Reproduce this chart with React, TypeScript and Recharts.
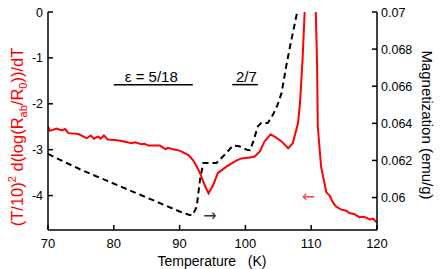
import React from 'react';
import { LineChart, Line, XAxis, YAxis, ReferenceLine, ReferenceDot } from 'recharts';

// red curve: (T/10)^2 d(log(Rab/R0))/dT, left axis
const redT = [70, 70.3, 71.3, 72.1, 72.6, 73.1, 74.6, 75.9, 76.5, 77.0, 77.6, 78.0, 78.5, 79.1, 80.2, 81.2, 82.7, 83.2, 84.2, 84.7, 85.2, 86.2, 87.0, 87.9, 88.2, 89.0, 90.0, 91.3, 92.0, 92.6, 93.1, 93.8, 94.4, 95.1, 95.8, 97.1, 98.6, 99.4, 100.7, 101.4, 102.2, 102.9, 103.8, 104.4, 105.5, 106.5, 107.2, 108.0, 108.3, 108.7, 109.0, 109.3, 110.4, 110.7, 110.9, 111.0, 111.5, 112.3, 112.8, 113.3, 113.8, 114.5, 115.3, 115.8, 116.5, 117.3, 118.0, 118.9, 119.4, 120];
const redV = [-2.49, -2.59, -2.54, -2.58, -2.55, -2.64, -2.66, -2.75, -2.69, -2.76, -2.71, -2.76, -2.69, -2.78, -2.79, -2.81, -2.86, -2.84, -2.88, -2.87, -2.91, -2.91, -2.91, -2.99, -2.96, -2.99, -3.02, -3.11, -3.22, -3.36, -3.51, -3.77, -3.95, -3.77, -3.51, -3.37, -3.24, -3.19, -3.17, -3.15, -3.04, -2.82, -2.67, -2.71, -2.82, -2.97, -2.86, -2.42, -1.98, -1.0, -0.02, 1.5, 1.5, -0.02, -1.18, -2.49, -3.37, -3.93, -4.0, -4.15, -4.24, -4.3, -4.33, -4.38, -4.4, -4.47, -4.46, -4.52, -4.5, -4.59];

// dashed curve: magnetization, right axis
const dashT = [70, 72, 75, 78, 81, 84, 87, 90, 91.5, 92.0, 92.6, 93.1, 93.6, 94.3, 95.6, 97.1, 98.1, 99.1, 100.2, 100.7, 101.2, 101.9, 102.4, 103.4, 104.2, 104.9, 105.5, 106.2, 107.0, 107.8, 108.2];
const dashV = [0.06235, 0.062, 0.0615, 0.06105, 0.0606, 0.06015, 0.0597, 0.05925, 0.05906, 0.05906, 0.05951, 0.06096, 0.06186, 0.06186, 0.06186, 0.0624, 0.0628, 0.06276, 0.06258, 0.06255, 0.06303, 0.06384, 0.06402, 0.06402, 0.06447, 0.06501, 0.06564, 0.06708, 0.06852, 0.06988, 0.0706];

const xTicks = [70, 80, 90, 100, 110, 120];
const leftTicks = [0, -1, -2, -3, -4];
const rightTicks = [0.06, 0.062, 0.064, 0.066, 0.068, 0.07];

const redData = redT.map((t, i) => ({ t, v: redV[i] }));
const dashData = dashT.map((t, i) => ({ t, m: dashV[i] }));

const FONT = '"Liberation Sans", Arial, Helvetica, sans-serif';

const BottomTick = (p: any) => (
  <g>
    <line x1={p.x} x2={p.x} y1={p.y} y2={p.y - 5} stroke="#000" strokeWidth={1.5} />
    <text x={p.x} y={p.y + 17.5} textAnchor="middle" fontSize={13} fontFamily={FONT} fill="#000">{p.payload.value}</text>
  </g>
);
const TopTick = (p: any) => (
  <line x1={p.x} x2={p.x} y1={p.y} y2={p.y + 5} stroke="#000" strokeWidth={1.5} />
);
const LeftTick = (p: any) => (
  <g>
    <line x1={p.x} x2={p.x + 5} y1={p.y} y2={p.y} stroke="#000" strokeWidth={1.5} />
    <text x={p.x - 5} y={p.y + 4.5} textAnchor="end" fontSize={12.5} fontFamily={FONT} fill="#000">{p.payload.value}</text>
  </g>
);
const RightTick = (p: any) => (
  <g>
    <line x1={p.x} x2={p.x - 5} y1={p.y} y2={p.y} stroke="#000" strokeWidth={1.5} />
    <text x={p.x + 4} y={p.y + 4.5} textAnchor="start" fontSize={12.5} fontFamily={FONT} fill="#000">{p.payload.value}</text>
  </g>
);

const textShape = (label: string, size: number, color: string, family = FONT) => (p: any) => (
  <text x={p.cx} y={p.cy} textAnchor="middle" dominantBaseline="central" fontSize={size} fontFamily={family} fill={color}>{label}</text>
);

const axisLine = { stroke: '#000', strokeWidth: 1.5 };

export default function App() {
  return (
    <div style={{ position: 'absolute', left: 0, top: 0, width: 443, height: 269, background: '#fff', fontFamily: FONT }}>
      <LineChart width={443} height={269} margin={{ top: 12, right: 0, bottom: 0, left: 0 }}>
        <XAxis xAxisId={0} dataKey="t" type="number" domain={[70, 120]} ticks={xTicks} allowDataOverflow
          height={39} tickSize={0} tickMargin={0} tickLine={false} axisLine={axisLine} tick={<BottomTick />} />
        <XAxis xAxisId="top" orientation="top" dataKey="t" type="number" domain={[70, 120]} ticks={xTicks}
          height={0} tickSize={0} tickMargin={0} tickLine={false} axisLine={axisLine} tick={<TopTick />} />
        <YAxis yAxisId="left" type="number" domain={[-4.75, 0]} ticks={leftTicks} allowDataOverflow
          width={48} tickSize={0} tickMargin={0} tickLine={false} axisLine={axisLine} tick={<LeftTick />} />
        <YAxis yAxisId="right" orientation="right" type="number" domain={[0.05825, 0.07]} ticks={rightTicks} allowDataOverflow
          width={66} tickSize={0} tickMargin={0} tickLine={false} axisLine={axisLine} tick={<RightTick />} />

        <Line data={dashData} dataKey="m" xAxisId={0} yAxisId="right" type="linear" stroke="#000"
          strokeWidth={2} strokeDasharray="6 4" dot={false} isAnimationActive={false} />
        <Line data={redData} dataKey="v" xAxisId={0} yAxisId="left" type="linear" stroke="#ff0000"
          strokeWidth={2} dot={false} isAnimationActive={false} />

        <ReferenceLine xAxisId={0} yAxisId="left" segment={[{ x: 80, y: -1.583 }, { x: 92, y: -1.583 }]} stroke="#000" strokeWidth={1.5} />
        <ReferenceLine xAxisId={0} yAxisId="left" segment={[{ x: 98, y: -1.583 }, { x: 101.9, y: -1.583 }]} stroke="#000" strokeWidth={1.5} />
        <ReferenceDot xAxisId={0} yAxisId="left" x={85.7} y={-1.4} r={0} shape={textShape('ε = 5/18', 15, '#000')} />
        <ReferenceDot xAxisId={0} yAxisId="left" x={100.15} y={-1.4} r={0} shape={textShape('2/7', 15, '#000')} />
        <ReferenceDot xAxisId={0} yAxisId="left" x={94.6} y={-4.44} r={0} shape={textShape('→', 16, '#333', '"DejaVu Sans", sans-serif')} />
        <ReferenceDot xAxisId={0} yAxisId="left" x={109.6} y={-4.02} r={0} shape={textShape('←', 16, '#f44', '"DejaVu Sans", sans-serif')} />
      </LineChart>

      <div style={{ position: 'absolute', left: 18, top: 137, transform: 'translate(-50%, -50%) rotate(-90deg)', whiteSpace: 'nowrap', color: '#ff0000', fontSize: 16.5, lineHeight: 1 }}>
        (T/10)<sup style={{ fontSize: 11 }}>2</sup> d(log(R<sub style={{ fontSize: 11 }}>ab</sub>/R<sub style={{ fontSize: 11 }}>0</sub>))/dT
      </div>
      <div style={{ position: 'absolute', left: 427, top: 125, transform: 'translate(-50%, -50%) rotate(90deg)', whiteSpace: 'nowrap', color: '#000', fontSize: 15, lineHeight: 1 }}>
        Magnetization (emu/g)
      </div>
      <div style={{ position: 'absolute', left: 212, top: 261, transform: 'translate(-50%, -50%)', whiteSpace: 'pre', color: '#000', fontSize: 14, lineHeight: 1 }}>
        {'Temperature   (K)'}
      </div>
    </div>
  );
}
